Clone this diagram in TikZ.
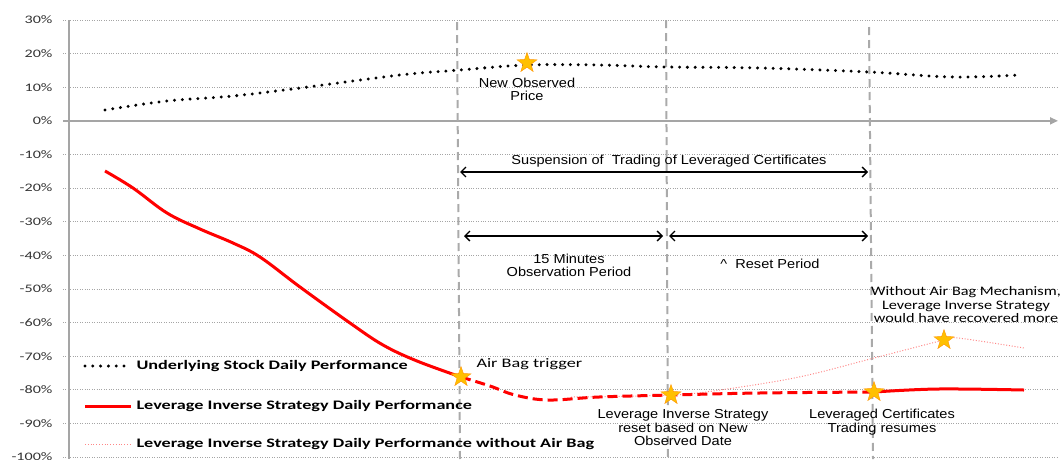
\documentclass[tikz,border=0pt]{standalone}
\usepackage{fontspec}
\setmainfont{Liberation Sans}[FakeStretch=1.12]
\newfontfamily\calfont{Carlito}[FakeStretch=1.4]
\newfontfamily\calnarrow{Carlito}[FakeStretch=1.25]
\usetikzlibrary{arrows.meta,shapes.geometric}

\definecolor{gridgray}{RGB}{165,165,165}
\definecolor{dashgray}{RGB}{170,170,170}
\definecolor{stargold}{RGB}{255,192,0}
\definecolor{pinkline}{RGB}{255,135,135}

\begin{document}
\begin{tikzpicture}[x=1pt,y=-1pt,
        gridline/.style={gridgray, line width=0.8pt, dash pattern=on 1pt off 1.4pt},
        period/.style={dashgray, line width=2pt, dash pattern=on 8pt off 5pt},
        span/.style={black, line width=1.3pt, {Straight Barb[length=5pt,width=10pt]}-{Straight Barb[length=5pt,width=10pt]}},
        starmark/.style={star, star points=5, star point ratio=2.5, minimum size=21pt, inner sep=0pt, fill=stargold, draw=orange!70!stargold, line width=0.4pt},
        stockline/.style={black, line width=3.3pt, line cap=round, dash pattern=on 0pt off 7.8pt},
        note/.style={align=center, font=\fontsize{13}{13.5}\selectfont},
        legendtext/.style={anchor=west, font=\calfont\bfseries\fontsize{13}{15}\selectfont},
        axislabel/.style={anchor=east, font=\calfont\fontsize{11.5}{13}\selectfont, text=black!80}]
    \useasboundingbox (0,0) rectangle (1064,459);

    % grid and axis
    \foreach \v [count=\k from 0] in {30,20,...,-100} {
        \ifnum\v=0
            \draw[gridgray, line width=2pt, -{Triangle[length=8pt,width=7pt]}] (63,20+33.62*\k) -- (1058,20+33.62*\k);
        \else
            \draw[gridline] (63,20+33.62*\k) -- (1058,20+33.62*\k);
        \fi
        \node[axislabel] (tick\k) at (56,20+33.62*\k) {\v\%};
    }
    \draw[gridgray, line width=2.5pt] (69,20) -- (69,459);

    % periods
    \coordinate (trigtop) at (457,22);
    \coordinate (trigbot) at (460,459);
    \coordinate (obstop) at (666,20);
    \coordinate (obsbot) at (668,459);
    \coordinate (resumetop) at (869,27);
    \coordinate (resumebot) at (873,459);
    \draw[period] (trigtop) -- (trigbot);
    \draw[period] (obstop) -- (obsbot);
    \draw[period] (resumetop) -- (resumebot);

    % underlying stock
    \draw[stockline]
        plot[smooth, tension=0.6] coordinates {(105,110) (167,101) (233,96) (300,88) (400,75) (460,70) (527,65) (600,65) (666,67) (760,68) (869,72) (953,77) (1018,75)};

    % leverage inverse strategy
    \draw[red, line width=3pt]
        plot[smooth, tension=0.6] coordinates {(105,171) (133,188) (167,213) (200,229) (233,243) (260,257) (300,287) (350,323) (383,345) (417,361) (461,377)};
    \draw[pinkline, line width=1pt, dash pattern=on 1pt off 1.8pt]
        plot[smooth, tension=0.6] coordinates {(571,397) (671,395) (720,390) (799,377) (874,358) (944,340) (958,338) (1024,348)};
    \draw[red, line width=3pt, dash pattern=on 10pt off 5pt]
        plot[smooth, tension=0.6] coordinates {(461,377) (490,386) (515,395) (548,400) (599,397) (671,395) (759,393) (874,392)};
    \draw[red, line width=3pt]
        plot[smooth, tension=0.6] coordinates {(874,392) (938,389) (1024,390)};

    % stars
    \node[starmark] (newprice) at (527,63) {};
    \node[starmark] (airbag) at (461,377) {};
    \node[starmark] (reset) at (671,395) {};
    \node[starmark] (resume) at (874,392) {};
    \node[starmark] (recover) at (944,340) {};

    % spans
    \coordinate (susL) at (460,172);
    \coordinate (susR) at (868,172);
    \coordinate (obsL) at (464,236);
    \coordinate (obsR) at (663,236);
    \coordinate (resL) at (669,236);
    \coordinate (resR) at (868,236);
    \draw[span] (susL) -- (susR);
    \draw[span] (obsL) -- (obsR);
    \draw[span] (resL) -- (resR);

    % notes
    \node[note] (susnote) at (669,161) {Suspension of\ \ Trading of Leveraged Certificates};
    \node[note] (obsnote) at (569,265.5) {15 Minutes\\Observation Period};
    \node[note] (resnote) at (770,264) {\^{}\ \ Reset Period};
    \node[note] (pricenote) at (527,89.5) {New Observed\\Price};
    \node[note, anchor=west, font=\calfont\fontsize{13}{13.5}\selectfont] (airbagnote) at (473,364) {Air Bag trigger};
    \node[note] (resetnote) at (683,428) {Leverage Inverse Strategy\\reset based on New\\Observed Date};
    \node[note] (resumenote) at (882,422) {Leveraged Certificates\\Trading resumes};
    \node[note, font=\calnarrow\fontsize{13}{13.5}\selectfont, inner sep=1pt] (recovernote) at (966,305) {Without Air Bag Mechanism,\\Leverage Inverse Strategy\\would have recovered more};

    % legend
    \coordinate (lg1a) at (85,366);
    \coordinate (lg1b) at (131,366);
    \coordinate (lg2a) at (85,406);
    \coordinate (lg2b) at (131,406);
    \coordinate (lg3a) at (85,444);
    \coordinate (lg3b) at (131,444);
    \draw[stockline] (lg1a) -- (lg1b);
    \draw[red, line width=3pt] (lg2a) -- (lg2b);
    \draw[pinkline, line width=1pt, dash pattern=on 1pt off 1.8pt] (lg3a) -- (lg3b);
    \node[legendtext] (lgstock) at (133,366) {Underlying Stock Daily Performance};
    \node[legendtext] (lgstrat) at (133,406) {Leverage Inverse Strategy Daily Performance};
    \node[legendtext] (lgnobag) at (133,444) {Leverage Inverse Strategy Daily Performance without Air Bag};
\end{tikzpicture}
\end{document}
